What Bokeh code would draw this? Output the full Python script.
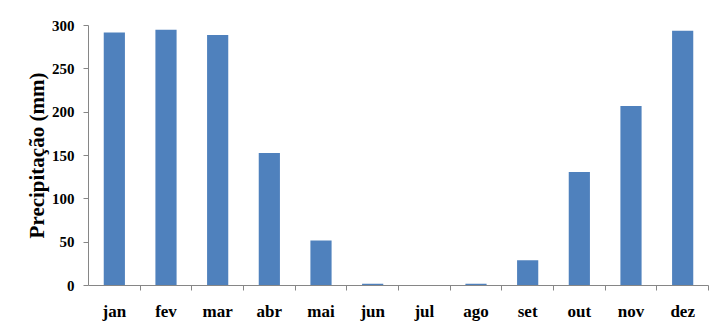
from bokeh.plotting import figure
from bokeh.models import Range1d, FixedTicker, ColumnDataSource
from bokeh.embed import file_html
from bokeh.resources import INLINE

months = ["jan", "fev", "mar", "abr", "mai", "jun", "jul", "ago", "set", "out", "nov", "dez"]
precip = [292, 295, 289, 153, 52, 2, 0, 2, 29, 131, 207, 294]
y_ticks = [0, 50, 100, 150, 200, 250, 300]

pos = [i + 0.5 for i in range(len(months))]
src = ColumnDataSource(dict(x=pos, top=precip, month=months))

p = figure(frame_width=620, frame_height=260, output_backend="svg", toolbar_location=None,
           x_range=Range1d(0, len(months)), y_range=Range1d(0, 300),
           min_border_left=88, min_border_right=4, min_border_top=25, min_border_bottom=31)
p.outline_line_color = None
p.xgrid.grid_line_color = None
p.ygrid.grid_line_color = None

p.vbar(x="x", top="top", width=0.41, source=src, fill_color="#4F81BD", line_color=None)

axis_color = "#868686"
font = "Liberation Serif"

xa = p.xaxis[0]
xa.ticker = FixedTicker(ticks=pos, minor_ticks=list(range(1, len(months) + 1)))
xa.major_label_overrides = {p_: m for p_, m in zip(pos, months)}
xa.major_tick_line_color = None
xa.minor_tick_line_color = axis_color
xa.minor_tick_out = 5
xa.minor_tick_in = 0
xa.axis_line_color = axis_color
xa.major_label_text_font = font
xa.major_label_text_font_style = "bold"
xa.major_label_text_font_size = "17px"
xa.major_label_text_color = "black"
xa.major_label_standoff = 10

ya = p.yaxis[0]
ya.ticker = FixedTicker(ticks=y_ticks)
ya.minor_tick_line_color = None
ya.major_tick_line_color = axis_color
ya.major_tick_out = 5
ya.major_tick_in = 0
ya.axis_line_color = axis_color
ya.major_label_text_font = font
ya.major_label_text_font_style = "bold"
ya.major_label_text_font_size = "15px"
ya.major_label_text_color = "black"
ya.major_label_standoff = 9
ya.axis_label = "Precipitação (mm)"
ya.axis_label_text_font = font
ya.axis_label_text_font_style = "bold"
ya.axis_label_text_font_size = "21px"
ya.axis_label_text_color = "black"
ya.axis_label_standoff = 0

open("out.html", "w").write(file_html(p, INLINE))
